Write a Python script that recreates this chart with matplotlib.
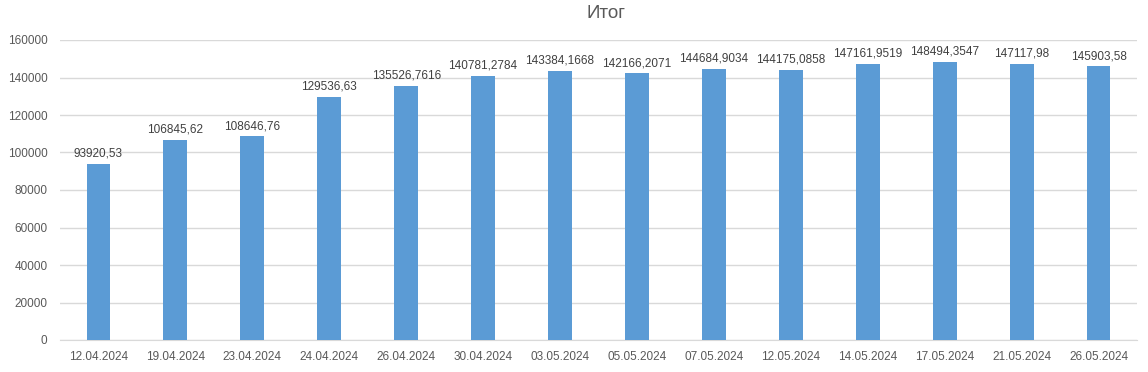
import matplotlib.pyplot as plt
import numpy as np

# --- Data ---
dates = ["12.04.2024", "19.04.2024", "23.04.2024", "24.04.2024", "26.04.2024",
         "30.04.2024", "03.05.2024", "05.05.2024", "07.05.2024", "12.05.2024",
         "14.05.2024", "17.05.2024", "21.05.2024", "26.05.2024"]
totals = [93920.53, 106845.62, 108646.76, 129536.63, 135526.7616,
          140781.2784, 143384.1668, 142166.2071, 144684.9034, 144175.0858,
          147161.9519, 148494.3547, 147117.98, 145903.58]
y_ticks = [0, 20000, 40000, 60000, 80000, 100000, 120000, 140000, 160000]

plt.rcParams['font.family'] = ['Liberation Sans', 'DejaVu Sans']
text_col = "#595959"
grid_col = "#d9d9d9"

fig = plt.figure(figsize=(11.48, 3.72), dpi=100)
ax = fig.add_axes([60 / 1148, 32 / 372, 1077 / 1148, 300 / 372])

x = np.arange(len(dates))
bars = ax.bar(x, totals, width=0.31, color="#5b9bd5", zorder=3)

for xi, v in zip(x, totals):
    ax.annotate(str(v).replace(".", ","), (xi, v), xytext=(0, 3),
                textcoords="offset points", ha="center", va="bottom",
                fontsize=8.5, color="#404040")

ax.set_xlim(-0.5, len(dates) - 0.5)
ax.set_ylim(0, 160000)
ax.set_yticks(y_ticks)
ax.set_yticklabels([str(t) for t in y_ticks])
ax.set_xticks(x)
ax.set_xticklabels(dates)
ax.yaxis.grid(True, color=grid_col, linewidth=1, zorder=0)
for s in ["top", "right", "left"]:
    ax.spines[s].set_visible(False)
ax.spines["bottom"].set_color(grid_col)
ax.tick_params(axis="both", length=0, labelsize=8.5, labelcolor=text_col)
ax.tick_params(axis="x", pad=8)
ax.tick_params(axis="y", pad=9)

fig.text(606 / 1148, 1 - 13 / 372, "Итог", ha="center", va="center",
         fontsize=13.5, color=text_col)

plt.savefig("out.png", dpi=100)
